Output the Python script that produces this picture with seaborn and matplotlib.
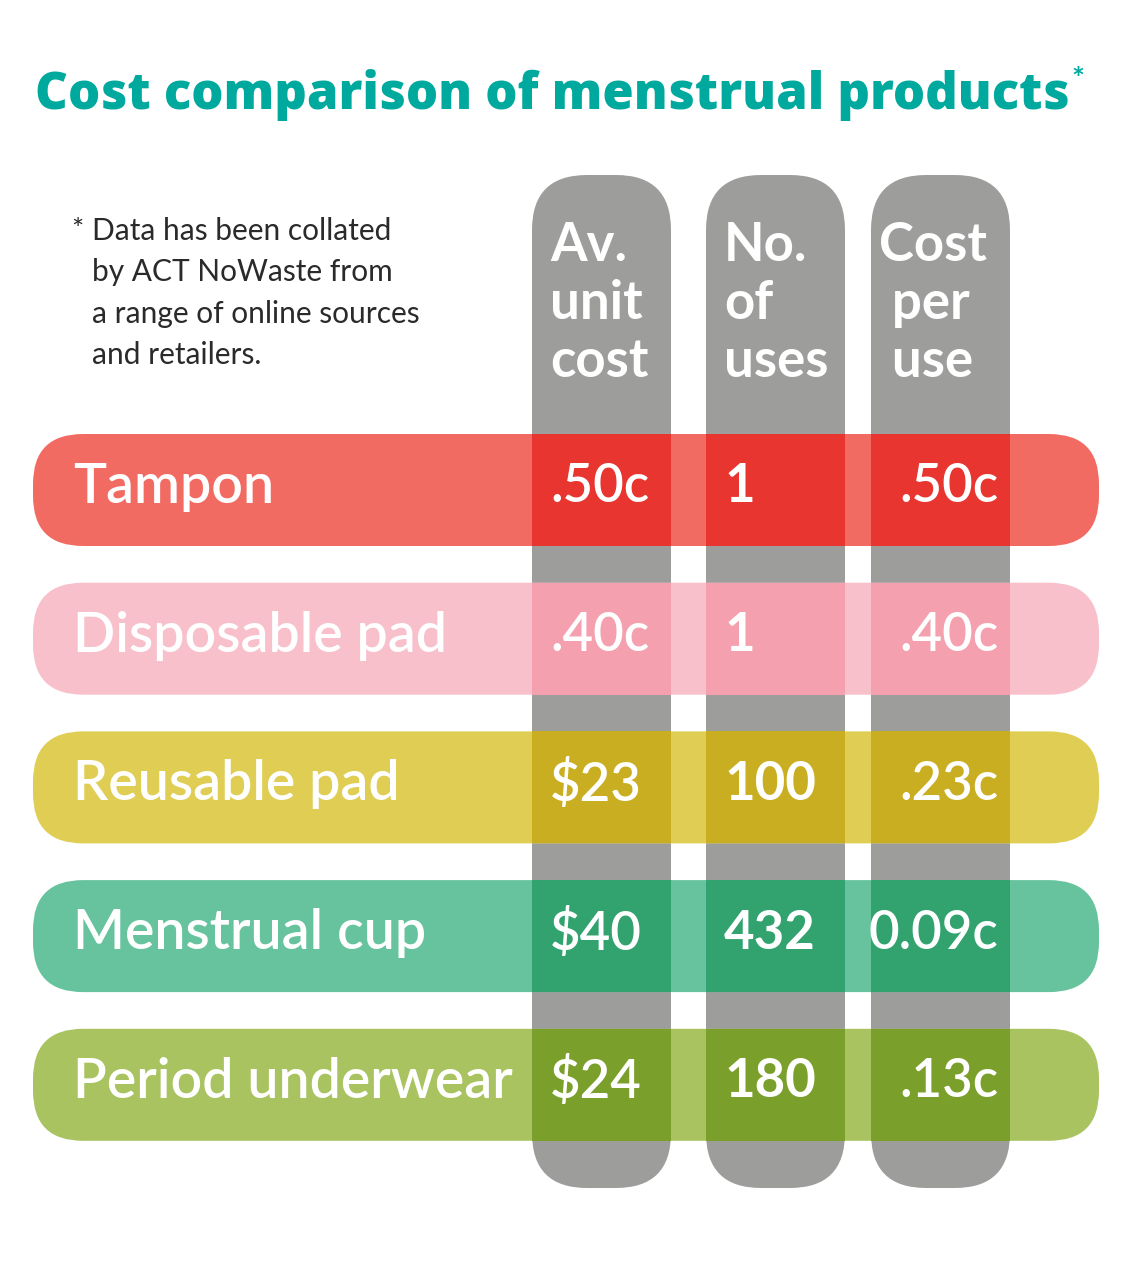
import matplotlib
matplotlib.use("Agg")
import matplotlib.pyplot as plt
from matplotlib.patches import FancyBboxPatch, Rectangle
import seaborn as sns

products = ["Tampon", "Disposable pad", "Reusable pad", "Menstrual cup", "Period underwear"]
unit_cost = [".50c", ".40c", "$23", "$40", "$24"]
no_of_uses = ["1", "1", "100", "432", "180"]
cost_per_use = [".50c", ".40c", ".23c", "0.09c", ".13c"]
headers = ["Av.\nunit\ncost", "No.\nof\nuses", "Cost\n per\n use"]

row_colors = ["#f26b63", "#f8c0cb", "#dfcd54", "#66c39e", "#a8c35f"]
overlap_colors = ["#e8352f", "#f4a0ae", "#c9ae21", "#32a26f", "#7b9f2b"]
gray = "#9d9d9c"
teal = "#00a99d"

sns.set_theme(style="white")
plt.rcParams["font.family"] = ["Lato", "DejaVu Sans"]

fig = plt.figure(figsize=(11.27, 12.68), dpi=100)
ax = fig.add_axes([0, 0, 1, 1])
ax.set_xlim(0, 1127)
ax.set_ylim(1268, 0)
ax.axis("off")

# layout in pixels
col_x = [532, 706, 871]
col_w = 139
col_top, col_bot = 175, 1188
row_top0, row_step, row_h = 434, 148.7, 112
row_x0, row_x1 = 33, 1099

# gray header columns
for cx in col_x:
    ax.add_patch(FancyBboxPatch((cx, col_top), col_w, col_bot - col_top,
                                boxstyle="round,pad=0,rounding_size=55",
                                fc=gray, ec="none", zorder=1))

for i, name in enumerate(products):
    y = row_top0 + i * row_step
    ax.add_patch(FancyBboxPatch((row_x0, y), row_x1 - row_x0, row_h,
                                boxstyle="round,pad=0,rounding_size=50",
                                fc=row_colors[i], ec="none", zorder=2))
    for cx in col_x:
        ax.add_patch(Rectangle((cx, y), col_w, row_h, fc=overlap_colors[i],
                               ec="none", zorder=3))
    yc = y + row_h / 2 - 3
    ax.text(73, yc, name, color="white", fontsize=40, fontweight="semibold",
            va="center", ha="left", zorder=4)
    ax.text(550, yc, unit_cost[i], color="white", fontsize=38,
            fontweight="semibold", va="center", ha="left", zorder=4)
    ax.text(724, yc, no_of_uses[i], color="white", fontsize=38,
            fontweight="bold", va="center", ha="left", zorder=4)
    ax.text(998, yc, cost_per_use[i], color="white", fontsize=38,
            fontweight="semibold", va="center", ha="right", zorder=4)

# column headers
for cx, off, h in zip(col_x, [18, 18, 8], headers):
    ax.text(cx + off, 221, h, color="white", fontsize=38, fontweight="bold",
            va="top", ha="left", linespacing=1.22, zorder=4)

# title
title = ax.text(35, 95, "Cost comparison of menstrual products", color=teal,
                fontsize=36.5, fontweight="heavy",
                family=["Open Sans", "DejaVu Sans"], va="center", ha="left")
fig.canvas.draw()
bb = title.get_window_extent().transformed(ax.transData.inverted())
ax.text(bb.x1 + 2, 80, "*", color=teal, fontsize=22, fontweight="bold",
        va="center", ha="left")

# footnote
ax.text(71, 218, "*", color="#2a2a2a", fontsize=21, fontweight="normal",
        va="top", ha="left")
ax.text(92, 217, "Data has been collated\nby ACT NoWaste from\na range of online sources\nand retailers.",
        color="#2a2a2a", fontsize=21.5, fontweight="normal", va="top", ha="left",
        linespacing=1.58)

fig.savefig("out.png", dpi=100)
